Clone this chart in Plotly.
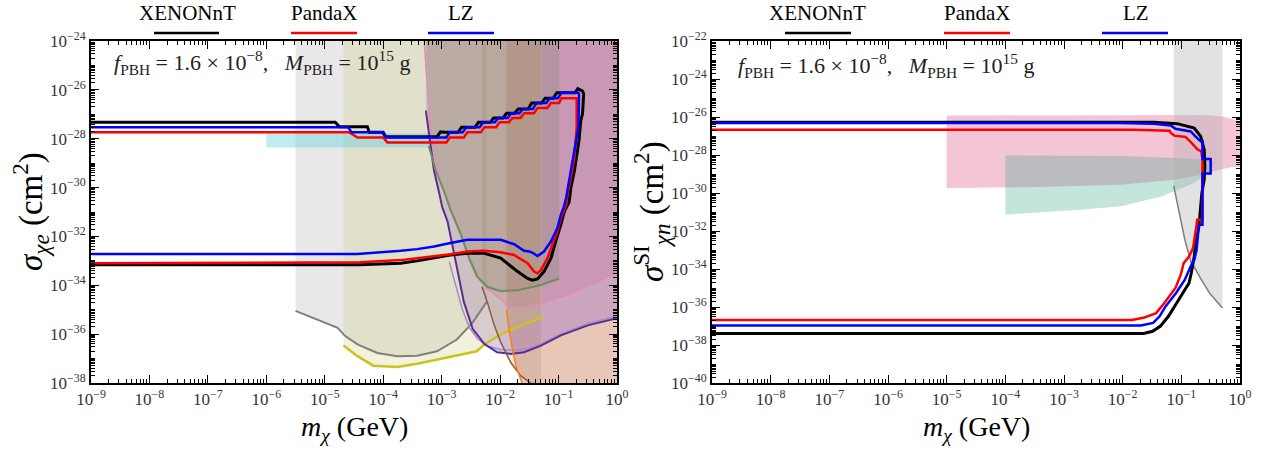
import numpy as np
import plotly.graph_objects as go

# ---------------- DATA (log10 m [GeV], log10 sigma [cm^2]) ----------------
# Left panel: electron scattering
XENON_E = [(-9.3,-27.33),(-4.82,-27.33),(-4.75,-27.51),(-4.27,-27.51),(-4.24,-27.74),(-4.0,-27.74),
           (-3.96,-27.92),(-3.08,-27.92),(-3.02,-27.72),(-2.95,-27.74),(-2.72,-27.74),(-2.66,-27.53),
           (-2.43,-27.53),(-2.37,-27.33),(-2.17,-27.33),(-2.11,-27.15),(-1.95,-27.15),(-1.89,-26.96),
           (-1.75,-26.96),(-1.69,-26.78),(-1.52,-26.78),(-1.46,-26.54),(-1.29,-26.54),(-1.23,-26.34),
           (-1.09,-26.34),(-1.03,-26.12),(-0.72,-26.12),(-0.67,-25.95),(-0.59,-26.05),(-0.57,-26.16),
           (-0.59,-26.98),(-0.62,-27.25),(-0.65,-28.08),(-0.69,-28.77),(-0.73,-29.32),(-0.79,-30.0),
           (-0.82,-30.6),(-0.90,-30.97),(-0.96,-31.52),(-1.05,-32.21),(-1.13,-32.89),(-1.25,-33.44),
           (-1.36,-33.74),(-1.45,-33.79),(-1.53,-33.72),(-1.70,-33.44),(-1.99,-32.89),(-2.27,-32.69),
           (-2.56,-32.69),(-2.85,-32.76),(-3.13,-32.89),(-3.42,-33.0),(-3.70,-33.10),(-4.40,-33.16),
           (-9.3,-33.16)]
PANDAX_E = [(-9.3,-27.74),(-4.58,-27.74),(-4.44,-27.95),(-4.0,-27.95),(-3.93,-28.15),(-2.92,-28.15),
            (-2.86,-27.95),(-2.62,-27.95),(-2.56,-27.74),(-2.33,-27.74),(-2.27,-27.53),(-2.07,-27.53),
            (-2.01,-27.33),(-1.85,-27.33),(-1.79,-27.15),(-1.65,-27.15),(-1.59,-26.96),(-1.42,-26.96),
            (-1.36,-26.74),(-1.19,-26.74),(-1.13,-26.54),(-0.99,-26.54),(-0.95,-26.34),(-0.69,-26.34),
            (-0.69,-27.53),(-0.73,-28.77),(-0.79,-29.60),(-0.85,-30.28),(-0.87,-30.7),(-0.96,-31.25),
            (-1.02,-31.79),(-1.10,-32.34),(-1.19,-32.89),(-1.30,-33.37),(-1.36,-33.51),(-1.42,-33.44),
            (-1.53,-33.10),(-1.76,-32.76),(-1.99,-32.65),(-2.27,-32.59),(-2.56,-32.62),(-2.85,-32.73),
            (-3.13,-32.82),(-3.42,-32.89),(-3.70,-32.97),(-4.40,-33.06),(-9.3,-33.10)]
LZ_E = [(-9.3,-27.53),(-4.60,-27.53),(-4.54,-27.74),(-4.02,-27.74),(-3.95,-27.95),(-2.92,-27.95),
        (-2.86,-27.74),(-2.64,-27.74),(-2.58,-27.53),(-2.35,-27.53),(-2.29,-27.33),(-2.09,-27.33),
        (-2.03,-27.15),(-1.87,-27.15),(-1.81,-26.96),(-1.67,-26.96),(-1.61,-26.78),(-1.44,-26.78),
        (-1.38,-26.54),(-1.21,-26.54),(-1.15,-26.34),(-1.01,-26.34),(-0.95,-26.12),(-0.66,-26.12),
        (-0.65,-26.2),(-0.66,-27.53),(-0.70,-28.08),(-0.76,-28.91),(-0.82,-29.60),(-0.87,-30.42),
        (-0.91,-30.8),(-0.96,-31.11),(-1.02,-31.66),(-1.13,-32.21),(-1.25,-32.62),(-1.36,-32.80),
        (-1.45,-32.66),(-1.50,-32.62),(-1.59,-32.59),(-1.76,-32.32),(-1.99,-32.14),(-2.56,-32.14),
        (-2.85,-32.27),(-3.13,-32.41),(-3.42,-32.52),(-3.70,-32.59),(-4.44,-32.72),(-9.3,-32.72)]

GRAY_E = [(-5.50,-35.05),(-5.12,-35.40),(-4.78,-35.74),(-4.65,-36.08),(-4.44,-36.42),(-4.10,-36.77),
          (-3.76,-36.90),(-3.42,-36.88),(-3.08,-36.70),(-2.74,-36.22),(-2.47,-35.53),(-2.23,-34.68)]
YELLOW_E = [(-4.68,-36.47),(-4.44,-36.90),(-4.17,-37.29),(-3.76,-37.34),(-3.42,-37.21),(-3.08,-37.04),
            (-2.74,-36.90),(-2.40,-36.70),(-2.27,-36.42),(-1.99,-36.01),(-1.72,-35.74),(-1.28,-35.29)]
PURPLE_E = [(-3.27,-26.85),(-3.19,-28.36),(-3.13,-29.32),(-3.05,-30.14),(-2.99,-30.8),(-2.90,-31.38),
            (-2.82,-32.34),(-2.73,-33.44),(-2.62,-34.68),(-2.47,-35.78),(-2.27,-36.40),(-2.05,-36.74),
            (-1.82,-36.81),(-1.59,-36.74),(-1.30,-36.47),(-0.96,-36.05),(-0.50,-35.64),(0.0,-35.35)]
LPURPLE_E = [(-2.87,-33.03),(-2.76,-33.99),(-2.65,-34.96),(-2.53,-35.71),(-2.39,-36.19),(-2.22,-36.49),
             (-1.99,-36.63),(-1.76,-36.67),(-1.53,-36.61),(-1.30,-36.40),(-0.96,-35.99),(-0.50,-35.56),
             (0.0,-35.27)]
PINK_E = [(-3.30,-24.0),(-3.25,-25.61),(-3.19,-27.67),(-3.10,-29.04),(-2.96,-30.14),(-2.85,-30.8),
          (-2.70,-31.66),(-2.56,-32.76),(-2.42,-33.58),(-2.22,-34.13),(-2.05,-34.47),(-1.96,-34.61),
          (-1.87,-34.89),(-1.65,-34.93),(-1.30,-34.75),(-0.85,-34.40),(-0.39,-33.93),(0.0,-33.5)]
GREEN_E = [(-3.22,-28.3),(-3.10,-29.32),(-2.96,-30.14),(-2.85,-30.9),(-2.67,-31.93),(-2.53,-32.89),
           (-2.39,-33.65),(-2.22,-34.06),(-1.99,-34.24),(-1.70,-34.20),(-1.30,-33.99),(-0.99,-33.72)]
BROWN_E = [(-2.31,-34.06),(-2.22,-34.68),(-2.10,-35.64),(-1.99,-36.33),(-1.82,-37.15),(-1.65,-37.70),
           (-1.42,-38.1)]
ORANGE_E = [(-1.89,-35.02),(-1.85,-35.78),(-1.79,-36.61),(-1.73,-37.29),(-1.62,-38.05)]
CYAN_E_M = [-6.0, -3.22]
CYAN_E_S = [-28.36, -27.78]

# Right panel: nucleon SI scattering
XENON_N = [(-9.3,-26.28),(-1.47,-26.28),(-1.07,-26.35),(-0.78,-26.58),(-0.67,-27.02),(-0.61,-27.72),
           (-0.60,-28.60),(-0.61,-29.30),(-0.65,-30.0),(-0.67,-30.88),(-0.70,-31.76),(-0.75,-32.46),
           (-0.78,-33.34),(-0.83,-34.21),(-0.87,-34.75),(-0.94,-35.09),(-1.08,-35.79),(-1.22,-36.49),
           (-1.36,-37.02),(-1.49,-37.28),(-1.64,-37.39),(-9.3,-37.39)]
PANDAX_N = [(-9.3,-26.67),(-1.82,-26.67),(-1.20,-26.72),(-1.18,-26.84),(-1.12,-26.98),(-0.93,-27.05),
            (-0.85,-27.28),(-0.78,-27.55),(-0.72,-27.72),(-0.66,-27.80),(-0.64,-28.2),(-0.64,-31.41),
            (-0.73,-31.41),(-0.74,-31.67),(-0.80,-32.9),(-0.87,-33.34),(-0.96,-33.69),(-1.01,-34.3),
            (-1.10,-35.0),(-1.29,-35.79),(-1.43,-36.32),(-1.63,-36.55),(-1.84,-36.68),(-9.3,-36.68)]
LZ_N = [(-9.3,-26.32),(-2.05,-26.32),(-1.47,-26.36),(-1.18,-26.45),(-1.10,-26.62),(-0.84,-26.76),
        (-0.76,-27.02),(-0.67,-27.28),(-0.64,-27.28),(-0.64,-28.21),(-0.50,-28.21),(-0.50,-28.98),
        (-0.64,-28.98),(-0.64,-31.67),(-0.70,-31.67),(-0.74,-33.0),(-0.78,-33.51),(-0.84,-33.86),
        (-0.94,-34.56),(-1.09,-35.26),(-1.27,-35.97),(-1.37,-36.49),(-1.48,-36.84),(-1.69,-36.97),
        (-2.5,-36.98),(-9.3,-36.98)]
GRAY_N = [(-1.13,-29.62),(-1.04,-30.88),(-0.94,-32.46),(-0.83,-33.70),(-0.77,-33.95),(-0.66,-34.56),
          (-0.52,-35.26),(-0.30,-36.05)]
PINK_N = [(-5.0,-25.92),(-1.2,-25.88),(-0.6,-25.90),(-0.3,-25.97),(-0.1,-26.1),(0.0,-26.2),(0.0,-28.62),
          (-0.15,-28.65),(-0.36,-28.77),(-0.64,-29.04),(-1.12,-29.30),(-2.03,-29.56),(-3.43,-29.68),
          (-5.0,-29.74)]
TEAL_N = [(-4.0,-28.02),(-2.0,-28.05),(-1.12,-28.16),(-0.5,-28.25),(-0.45,-28.45),(-0.50,-28.86),
          (-0.78,-29.47),(-1.34,-30.18),(-2.03,-30.70),(-2.73,-30.88),(-4.0,-31.14)]

EXPERIMENTS = ["XENONnT", "PandaX", "LZ"]
EXP_COLORS = ["black", "#ff0000", "#0000ff"]
ANNOT = "<i>f</i><sub>PBH</sub> = 1.6 × 10<sup>−8</sup>,   <i>M</i><sub>PBH</sub> = 10<sup>15</sup> g"

FONT = "Liberation Serif"


def xy(pts):
    a = np.array(pts, dtype=float)
    return np.power(10.0, a[:, 0]), np.power(10.0, a[:, 1])


fig = go.Figure()


def add_line(pts, color, width, ax):
    x, y = xy(pts)
    fig.add_trace(go.Scatter(x=x, y=y, mode="lines", line=dict(color=color, width=width),
                             xaxis="x" + ax, yaxis="y" + ax, showlegend=False, hoverinfo="skip"))


def add_fill(pts, color, ax):
    x, y = xy(pts)
    fig.add_trace(go.Scatter(x=x, y=y, mode="lines", fill="toself", fillcolor=color,
                             line=dict(width=0), xaxis="x" + ax, yaxis="y" + ax,
                             showlegend=False, hoverinfo="skip"))


TOP_L = -23.5
BOT_L = -38.5
# ---- left fills
add_fill([(ORANGE_E[0][0], TOP_L)] + ORANGE_E + [(-1.60, BOT_L), (0.1, BOT_L), (0.1, TOP_L)],
         "rgba(190,95,55,0.35)", "")
add_fill([(GRAY_E[0][0], TOP_L)] + GRAY_E + [(GRAY_E[-1][0], TOP_L)], "rgba(190,190,190,0.35)", "")
add_fill([(PURPLE_E[0][0], TOP_L)] + PURPLE_E + [(0.1, PURPLE_E[-1][1]), (0.1, TOP_L)],
         "rgba(150,100,200,0.33)", "")
add_fill(PINK_E + [(0.1, PINK_E[-1][1]), (0.1, TOP_L), (PINK_E[0][0], TOP_L)], "rgba(190,100,140,0.2)", "")
add_fill([(-3.27, TOP_L)] + GREEN_E + [(GREEN_E[-1][0], TOP_L)], "rgba(100,130,90,0.2)", "")
add_fill([(YELLOW_E[0][0], TOP_L)] + YELLOW_E + [(YELLOW_E[-1][0], TOP_L)], "rgba(203,203,115,0.25)", "")
add_fill([(BROWN_E[0][0], TOP_L)] + BROWN_E + [(-1.30, BOT_L), (-1.30, TOP_L)], "rgba(140,100,70,0.15)", "")
add_fill([(CYAN_E_M[0], CYAN_E_S[0]), (CYAN_E_M[1], CYAN_E_S[0]), (CYAN_E_M[1], CYAN_E_S[1]),
          (CYAN_E_M[0], CYAN_E_S[1])], "rgba(100,210,220,0.42)", "")
# ---- left lines
add_line(GRAY_E, "#7f7f7f", 2, "")
add_line(YELLOW_E, "#c8c41c", 2.5, "")
add_line(LPURPLE_E, "#a58cc8", 1.5, "")
add_line(PURPLE_E, "#5c2d91", 2, "")
add_line(PINK_E, "#e58bb8", 1.5, "")
add_line(GREEN_E, "#6b8f5e", 2, "")
add_line(BROWN_E, "#8c5a3c", 1.5, "")
add_line(ORANGE_E, "#ff7f0e", 1.5, "")
for pts, c, w in [(XENON_E, "black", 3), (PANDAX_E, "#ff0000", 2.5), (LZ_E, "#0000ff", 2.5)]:
    add_line(pts, c, w, "")

# ---- right fills
TOP_R = -21.5
add_fill(PINK_N, "rgba(220,80,130,0.33)", "2")
add_fill(TEAL_N, "rgba(60,170,140,0.3)", "2")
add_fill([(GRAY_N[0][0], TOP_R)] + GRAY_N + [(GRAY_N[-1][0], TOP_R)], "rgba(175,175,175,0.36)", "2")
add_line(GRAY_N, "#7f7f7f", 1.5, "2")
for pts, c, w in [(XENON_N, "black", 3), (PANDAX_N, "#ff0000", 2.5), (LZ_N, "#0000ff", 2.5)]:
    add_line(pts, c, w, "2")

# ---------------- axes ----------------
W, H = 1268, 452


def px(xp):
    return xp / W


def py(yp):
    return 1 - yp / H


def log_ticks(lo, hi, step=1):
    majors = list(range(lo, hi + 1, step))
    vals = [10.0 ** k for k in majors]
    text = ["10<sup>−%d</sup>" % -k if k < 0 else "10<sup>%d</sup>" % k for k in majors]
    minor = [m * 10.0 ** k for k in range(lo, hi) for m in range(2, 10)]
    minor += [10.0 ** k for k in range(lo, hi + 1) if k not in majors]
    return vals, text, minor


def axis(lo, hi, domain, anchor, step):
    vals, text, minor = log_ticks(lo, hi, step)
    return dict(type="log", range=[lo, hi], domain=domain, anchor=anchor, automargin=False,
                tickmode="array", tickvals=vals, ticktext=text,
                ticks="inside", ticklen=8, tickwidth=1.3, tickcolor="black",
                minor=dict(tickmode="array", tickvals=minor, ticks="inside", ticklen=4, tickwidth=1,
                           tickcolor="black"),
                showline=True, linecolor="black", linewidth=2, mirror="allticks",
                showgrid=False, zeroline=False,
                tickfont=dict(family=FONT, size=17, color="#333333"))


XD1 = [px(91), px(617)]
XD2 = [px(712), px(1240)]
YD = [py(383), py(41)]

fig.update_layout(
    width=W, height=H, margin=dict(l=0, r=0, t=0, b=0, autoexpand=False),
    paper_bgcolor="white", plot_bgcolor="white", showlegend=False,
    xaxis=axis(-9, 0, XD1, "y", 1),
    yaxis=axis(-38, -24, YD, "x", 2),
    xaxis2=axis(-9, 0, XD2, "y2", 1),
    yaxis2=axis(-40, -22, YD, "x2", 2),
)

ann = []
shapes = []


def text_at(x, y, text, size, xanchor="center", angle=0, color="black"):
    ann.append(dict(x=px(x), y=py(y), xref="paper", yref="paper", text=text, showarrow=False,
                    xanchor=xanchor, yanchor="middle", textangle=angle,
                    font=dict(family=FONT, size=size, color=color)))


# legends
leg_left = [(187, 154, 219), (324, 291, 357), (461, 428, 494)]
leg_right = [(817, 785, 851), (977, 944, 1010), (1136, 1102, 1168)]
for group in (leg_left, leg_right):
    for (tc, x0, x1), name, col in zip(group, EXPERIMENTS, EXP_COLORS):
        text_at(tc, 13, name, 21)
        shapes.append(dict(type="line", xref="paper", yref="paper", x0=px(x0), x1=px(x1),
                           y0=py(33), y1=py(33), line=dict(color=col, width=2.5)))
# f_PBH annotations
text_at(112, 63, ANNOT, 22, xanchor="left", color="#222222")
text_at(736, 65, ANNOT, 22, xanchor="left", color="#222222")
# axis titles
text_at(354, 428, "<i>m</i><sub><i>χ</i></sub> (GeV)", 28)
text_at(976, 428, "<i>m</i><sub><i>χ</i></sub> (GeV)", 28)
text_at(30, 212, "<i>σ</i><sub><i>χe</i></sub> (cm<sup>2</sup>)", 33, angle=-90)
text_at(651, 212, "<i>σ</i><sup>SI</sup><sub><i>χn</i></sub> (cm<sup>2</sup>)", 33, angle=-90)
fig.update_layout(annotations=ann, shapes=shapes)

fig.write_html("out.html")
